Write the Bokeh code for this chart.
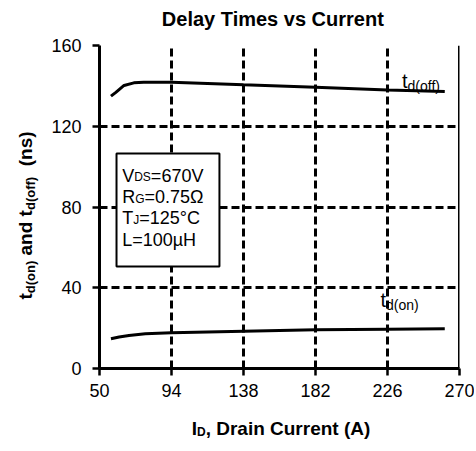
import math
from bokeh.plotting import figure
from bokeh.layouts import row, column
from bokeh.models import Label, BoxAnnotation, Span, FixedTicker, Range1d
from bokeh.embed import file_html
from bokeh.resources import INLINE

# ---------------- data ----------------
x_current = [57, 60, 65, 71, 77, 94, 138, 182, 226, 261]
td_off = [134.9, 136.8, 140.2, 141.5, 141.8, 141.8, 140.5, 139.3, 138.0, 137.2]
x_current_on = [57, 62, 68, 78, 94, 138, 182, 226, 261]
td_on = [14.7, 15.6, 16.3, 17.2, 17.7, 18.5, 19.2, 19.5, 19.7]
x_ticks = [50, 94, 138, 182, 226, 270]
y_ticks = [0, 40, 80, 120, 160]
cond_lines = [("V", "DS", "=670V"), ("R", "G", "=0.75Ω"), ("T", "J", "=125°C"), ("L", "", "=100µH")]
title_text = "Delay Times vs Current"

FONT = "Liberation Sans"

REG = {' ': 278, '(': 333, ')': 333, '.': 278, ',': 278, '=': 584, '°': 400, 'µ': 556, 'Ω': 768,
       'C': 722, 'D': 722, 'G': 778, 'H': 722, 'J': 500, 'L': 556, 'R': 722, 'S': 667, 'T': 611,
       'V': 667, 'd': 556, 'f': 278, 'n': 556, 'o': 556, 't': 278}
for c in "0123456789":
    REG[c] = 556
BOLD = {' ': 278, '(': 333, ')': 333, ',': 278, 'A': 722, 'C': 722, 'D': 722, 'I': 278, 'a': 556,
        'd': 611, 'e': 556, 'i': 278, 'n': 611, 'r': 389, 's': 556, 't': 333, 'u': 611, 'o': 611,
        'f': 333, 'l': 278, 'y': 556, 'T': 611, 'm': 889, 'v': 556}


def tw(s, size, bold):
    tab = BOLD if bold else REG
    return sum(tab.get(ch, 556) for ch in s) * size / 1000.0


# ---------------- geometry (page px) ----------------
YL_W = 40                 # left strip for the y-axis title
TL_H = 33                 # top strip for the chart title
FR_L, FR_T, FR_W, FR_H = 99, 45, 360, 323   # frame in page px
MAIN_W = 434
MAIN_TOP = FR_T - TL_H
MAIN_BOTTOM = 42
MAIN_H = MAIN_TOP + FR_H + MAIN_BOTTOM
XL_H = 38                 # bottom strip for the x-axis title
TOTAL_H = TL_H + MAIN_H + XL_H
X0, Y0 = FR_L, FR_T + FR_H                  # page px of data point (50, 0)

p = figure(width=MAIN_W, height=MAIN_H, x_range=Range1d(50, 270), y_range=Range1d(0, 160),
           output_backend="svg", toolbar_location=None, title=None,
           min_border_left=FR_L - YL_W, min_border_right=MAIN_W - (FR_L - YL_W) - FR_W,
           min_border_top=MAIN_TOP, min_border_bottom=MAIN_BOTTOM)
p.outline_line_color = None
p.background_fill_color = "white"
p.border_fill_color = "white"

p.xaxis.ticker = FixedTicker(ticks=x_ticks)
p.yaxis.ticker = FixedTicker(ticks=y_ticks)
for ax in (p.xaxis, p.yaxis):
    ax.axis_line_color = "black"
    ax.axis_line_width = 3
    ax.major_tick_line_color = "black"
    ax.major_tick_line_width = 2.5
    ax.major_tick_in = 0
    ax.major_tick_out = 7
    ax.minor_tick_line_color = None
    ax.major_label_text_font = FONT
    ax.major_label_text_font_size = "18px"
    ax.major_label_text_color = "black"
p.yaxis.major_label_standoff = 11
p.xaxis.major_label_standoff = 8

for g in (p.xgrid, p.ygrid):
    g.grid_line_color = "black"
    g.grid_line_width = 3
    g.grid_line_dash = "8 4"
p.xgrid.ticker = FixedTicker(ticks=x_ticks)
p.ygrid.ticker = FixedTicker(ticks=y_ticks)

p.add_layout(Span(location=270, dimension="height", line_color="black", line_width=3))

p.line(x_current, td_off, line_color="black", line_width=3)
p.line(x_current_on, td_on, line_color="black", line_width=3)


def split_lead(text, size, bold):
    stripped = text.lstrip(" ")
    lead = tw(text[:len(text) - len(stripped)], size, bold)
    return stripped, lead


def run_main(pieces, px, py):
    """Text run inside the main frame; px, py = page coords of baseline start."""
    pos = 0.0
    for text, size, bold, drop in pieces:
        shown, lead = split_lead(text, size, bold)
        p.add_layout(Label(x=50, y=0, x_offset=(px - X0) + pos + lead, y_offset=(Y0 - py) - drop,
                           text=shown, text_font=FONT, text_font_size=f"{size}px",
                           text_font_style="bold" if bold else "normal", text_color="black",
                           text_align="left", text_baseline="alphabetic"))
        pos += tw(text, size, bold)


def strip(w, h):
    f = figure(frame_width=w, frame_height=h, x_range=Range1d(0, w), y_range=Range1d(0, h),
               x_axis_type=None, y_axis_type=None, output_backend="svg", toolbar_location=None,
               title=None, min_border=0, min_border_left=0, min_border_right=0,
               min_border_top=0, min_border_bottom=0)
    f.outline_line_color = None
    f.background_fill_color = "white"
    f.border_fill_color = "white"
    return f


def run_strip(f, h, pieces, x, y_top, angle=0.0):
    """x, y_top: strip coords (y measured from top) of baseline start."""
    pos = 0.0
    ca, sa = math.cos(angle), math.sin(angle)
    for text, size, bold, drop in pieces:
        shown, lead = split_lead(text, size, bold)
        q = pos + lead
        dx = q * ca + drop * sa
        dy_up = q * sa - drop * ca
        f.add_layout(Label(x=x + dx, y=(h - y_top) + dy_up,
                           text=shown, text_font=FONT, text_font_size=f"{size}px",
                           text_font_style="bold" if bold else "normal", text_color="black",
                           text_align="left", text_baseline="alphabetic", angle=angle))
        pos += tw(text, size, bold)


# condition box
p.add_layout(BoxAnnotation(left=60.4, right=123.3, bottom=50.5, top=106.5,
                           fill_color="white", fill_alpha=1.0, line_color="black",
                           line_width=2, line_alpha=1.0))
baselines = [175, 196.7, 217.5, 239]
for (a, sub, b), by in zip(cond_lines, baselines):
    pieces = [(a, 18, False, 0)]
    if sub:
        pieces.append((sub, 12, False, 1.5))
    pieces.append((b, 18, False, 0))
    run_main(pieces, 121.7, by)

# curve labels
run_main([("t", 20, False, 0), ("d(off)", 14, False, 5)], 401.5, 80.5)
run_main([("t", 20, False, 0), ("d(on)", 14, False, 5)], 380, 299)

# strips above/below share the main frame's left edge (page x = FR_L)
tl = strip(FR_W, TL_H)
tw_title = tw(title_text, 20, True)
run_strip(tl, TL_H, [(title_text, 20, True, 0)], 272.5 - tw_title / 2 - FR_L, 18)

xl = strip(FR_W, XL_H)
xpieces = [("I", 19, True, 0), ("D", 12, True, 3), (", Drain Current (A)", 19, True, 0)]
xw = sum(tw(t, s, b) for t, s, b, _ in xpieces)
run_strip(xl, XL_H, xpieces, 280.5 - xw / 2 - FR_L, 428 - TL_H - MAIN_H)

# y-axis title strip (left)
yl = strip(YL_W, TOTAL_H)
ypieces = [("t", 19, True, 0), ("d(on)", 13, True, 5), (" and t", 19, True, 0),
           ("d(off)", 13, True, 5), ("  (ns)", 19, True, 0)]
yw = sum(tw(t, s, b) for t, s, b, _ in ypieces)
run_strip(yl, TOTAL_H, ypieces, 25, 215 + yw / 2, angle=math.pi / 2)

layout = row(yl, column(tl, p, xl, spacing=0), spacing=0)
open("out.html", "w").write(file_html(layout, INLINE))
